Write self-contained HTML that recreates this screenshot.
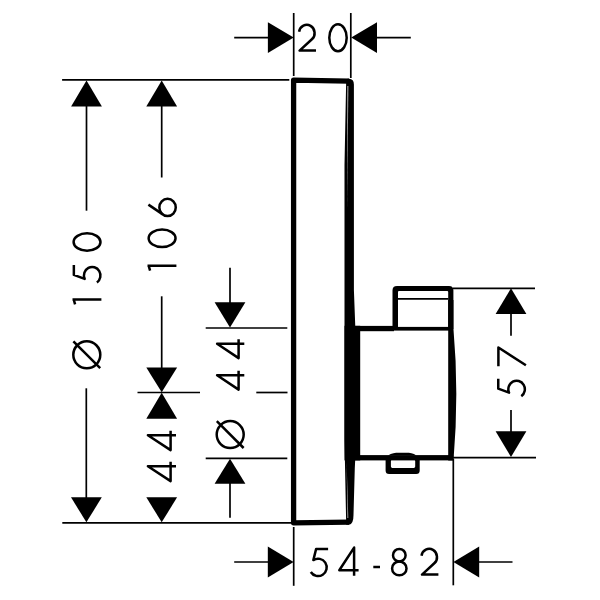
<!DOCTYPE html>
<html><head><meta charset="utf-8"><title>Dimension drawing</title>
<style>
html,body{margin:0;padding:0;background:#fff;font-family:"Liberation Sans",sans-serif}
svg{display:block}
.l line{stroke:#000;fill:none}
.f{fill:#000;stroke:none}
.t *{fill:none;stroke:#000;stroke-width:2.5;stroke-linejoin:round;stroke-linecap:butt}
.s{fill:none;stroke:#000;stroke-linejoin:round;stroke-linecap:butt}
</style></head><body>
<svg width="600" height="600" viewBox="0 0 600 600">
<rect width="600" height="600" fill="#fff"/>
<g class="l">
<line x1="234.2" y1="37.6" x2="268" y2="37.6" stroke-width="1.7"/>
<polygon class="f" points="293.7,37.6 267.9,22.2 267.9,53.0"/>
<line x1="377" y1="37.6" x2="410.8" y2="37.6" stroke-width="1.7"/>
<polygon class="f" points="351.2,37.6 377.0,22.2 377.0,53.0"/>
<line x1="293.7" y1="13" x2="293.7" y2="76" stroke-width="1.7"/>
<line x1="350.8" y1="13" x2="350.8" y2="78" stroke-width="1.7"/>
<line x1="62.1" y1="79.9" x2="289.3" y2="79.9" stroke-width="1.7"/>
<line x1="62.3" y1="522.9" x2="292" y2="522.9" stroke-width="1.7"/>
<line x1="137.5" y1="392.5" x2="200" y2="392.5" stroke-width="1.7"/>
<line x1="256.3" y1="392.5" x2="287.5" y2="392.5" stroke-width="1.7"/>
<line x1="205.7" y1="328" x2="287.3" y2="328" stroke-width="1.7"/>
<line x1="205.7" y1="458.4" x2="287.3" y2="458.4" stroke-width="1.7"/>
<polygon class="f" points="86.5,80.6 71.1,106.4 101.9,106.4"/>
<line x1="86.5" y1="106" x2="86.5" y2="210.7" stroke-width="1.7"/>
<line x1="86.3" y1="388.3" x2="86.3" y2="498" stroke-width="1.7"/>
<polygon class="f" points="86.4,522.3 71.0,497.3 101.8,497.3"/>
<polygon class="f" points="161.7,80.6 146.3,106.4 177.1,106.4"/>
<line x1="161.7" y1="106" x2="161.7" y2="177.5" stroke-width="1.7"/>
<line x1="161.7" y1="296.3" x2="161.7" y2="368" stroke-width="1.7"/>
<polygon class="f" points="161.7,392.3 146.3,367.4 177.1,367.4"/>
<polygon class="f" points="161.7,392.7 146.3,418.7 177.1,418.7"/>
<polygon class="f" points="161.7,522.3 146.3,497.3 177.1,497.3"/>
<line x1="230" y1="267.8" x2="230" y2="303" stroke-width="1.7"/>
<polygon class="f" points="230,327.6 214.6,302.3 245.4,302.3"/>
<polygon class="f" points="230,458.8 214.6,483.8 245.4,483.8"/>
<line x1="230" y1="483" x2="230" y2="517.8" stroke-width="1.7"/>
<line x1="453" y1="288.3" x2="535" y2="288.3" stroke-width="1.7"/>
<line x1="453" y1="457.6" x2="536" y2="457.6" stroke-width="1.7"/>
<polygon class="f" points="511,288.2 495.6,314.0 526.4,314.0"/>
<line x1="511" y1="313" x2="511" y2="335.7" stroke-width="1.7"/>
<line x1="511" y1="410" x2="511" y2="432" stroke-width="1.7"/>
<polygon class="f" points="511,457 495.6,431.2 526.4,431.2"/>
<line x1="293.7" y1="527" x2="293.7" y2="585.8" stroke-width="1.7"/>
<line x1="453.3" y1="459" x2="453.3" y2="585.3" stroke-width="1.7"/>
<line x1="234.2" y1="562" x2="268" y2="562" stroke-width="1.7"/>
<polygon class="f" points="293.6,562 267.8,546.6 267.8,577.4"/>
<line x1="479" y1="562" x2="512.5" y2="562" stroke-width="1.7"/>
<polygon class="f" points="453.4,562 479.2,546.6 479.2,577.4"/>
</g>
<g class="t">
<g transform="translate(297.8,23.7)"><path d="M1.3 8.1A7.8 8.2 0 1 1 14.1 15.6L1.8 26.9L18.2 26.9"/></g>
<g transform="translate(338,37.75)"><ellipse cx="0" cy="0" rx="8.7" ry="13.45"/></g>
<g transform="translate(87.05,242) rotate(-90)"><ellipse cx="0" cy="0" rx="8.7" ry="13.45"/></g>
<g transform="translate(73.85,283.9) rotate(-90)"><path d="M18.9 0L9 0L5.05 10.8A8.5 8.25 0 1 1 1.5 23.05"/></g>
<g transform="translate(72.5,299.5) rotate(-90)"><path d="M-4.8 2.6L0 1.2M0 0L0 28.9"/></g>
<g transform="translate(86.8,354.8)"><circle cx="0" cy="0" r="13.5"/><path d="M-13.4 -13.4L13.4 13.4"/></g>
<g transform="translate(147.5,215.5) rotate(-90)"><path d="M10.9 .9L1.1 15.3"/><ellipse cx="8.05" cy="20.05" rx="8.6" ry="8.2"/></g>
<g transform="translate(162.1,238.3) rotate(-90)"><ellipse cx="0" cy="0" rx="8.7" ry="13.45"/></g>
<g transform="translate(147.5,265.8) rotate(-90)"><path d="M-4.8 2.6L0 1.2M0 0L0 28.9"/></g>
<g transform="translate(147.3,450.1) rotate(-90)"><path d="M14.8 28.7L14.8 .6L0 23.3L19.3 23.3"/></g>
<g transform="translate(147.3,481.1) rotate(-90)"><path d="M14.8 28.7L14.8 .6L0 23.3L19.3 23.3"/></g>
<g transform="translate(216.3,358.1) rotate(-90)"><path d="M14.3 28L14.3 .8L0 22.3L18.8 22.3"/></g>
<g transform="translate(216.3,389.6) rotate(-90)"><path d="M14.3 28L14.3 .8L0 22.3L18.8 22.3"/></g>
<g transform="translate(230.2,434.6)"><circle cx="0" cy="0" r="13.5"/><path d="M-13.4 -13.4L13.4 13.4"/></g>
<g transform="translate(498.4,366.2) rotate(-90)"><path d="M0 0L18.7 0L1 27.5"/></g>
<g transform="translate(498.25,397.7) rotate(-90)"><path d="M18.9 0L9 0L5.05 10.8A8.5 8.25 0 1 1 1.5 23.05"/></g>
<g transform="translate(310.4,549)"><path d="M17.7 0L5.7 0L2.95 11.1A8.6 8.7 0 1 1 .4 23"/></g>
<g transform="translate(339.3,547)"><path d="M14.8 28.7L14.8 .6L0 23.3L19.3 23.3"/></g>
<path d="M373.3 567L380 567"/>
<g transform="translate(392.1,548.9)"><circle cx="7.2" cy="6.3" r="6.3"/><ellipse cx="7.2" cy="19.5" rx="7.2" ry="6.9"/></g>
<g transform="translate(420.2,547.7)"><path d="M1.3 8.1A7.8 8.2 0 1 1 14.1 15.6L1.8 26.9L18.2 26.9"/></g>
</g>
<g class="k">
<path class="s" stroke-width="5.3" d="M349 522.2L293.6 522.8L293.6 80.1L349 81.2"/>
<path class="f" d="M346.2 79L349 78.8Q353.9 79 353.9 84.5L353.9 290L355.3 327L355.3 458L354.8 468L353.5 515Q353.5 524.3 349 524.7L346.2 524.7L344.5 440L344.5 165Z"/>
<polygon points="347.3,86 348.4,86 347,210" fill="#fff" opacity=".7"/>
<polygon points="347.4,518 348.3,518 346.6,462" fill="#fff" opacity=".7"/>
<rect class="f" x="344.5" y="325.8" width="15.7" height="134.6"/>
<rect class="f" x="354" y="325.9" width="40" height="5.3"/>
<rect class="f" x="392.6" y="326.9" width="57" height="3.7"/>
<rect class="f" x="354" y="455.1" width="99.3" height="5.3"/>
<path class="f" d="M388 455.4C393 452.2 398 452.8 402.5 452.8C407 452.8 412 452.2 416.4 455.4Z"/>
<path class="f" d="M448.2 300L453.4 300L453.4 328Q459.2 393 453.5 460.4L448.2 460.4Z"/>
<path class="f" fill-rule="evenodd" d="M392.5 329L392.5 290.3Q392.5 285.9 397 285.9L449 285.9Q453.4 285.9 453.4 290.3L453.4 329ZM398 326.9L398 292Q398 291.1 399 291.1L447.2 291.1Q448.2 291.1 448.2 292L448.2 326.9Z"/>
<line x1="397.5" y1="298.9" x2="448.5" y2="298.9" stroke="#000" stroke-width="1.7"/>
<path class="f" fill-rule="evenodd" d="M385.6 456L385.6 470.4Q385.6 473.9 389.1 473.9L416.2 473.9Q419.7 473.9 419.7 470.4L419.7 456ZM390.9 461Q390.9 459.7 392.4 459.7L413.8 459.7Q415.2 459.7 415.2 461L415.2 466.5Q415.2 467.9 413.8 467.9L392.4 467.9Q390.9 467.9 390.9 466.5Z"/>
</g>
</svg>
</body></html>
